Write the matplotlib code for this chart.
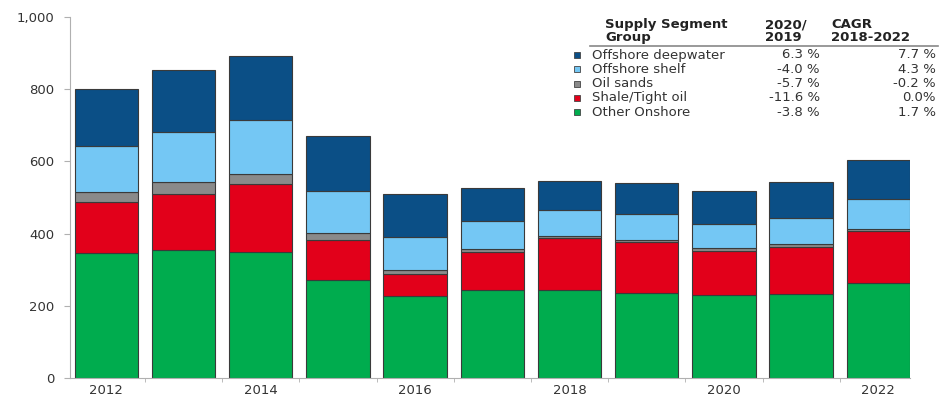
import matplotlib
matplotlib.use("Agg")

import matplotlib.pyplot as plt
import numpy as np

plt.rcParams["font.family"] = ["DejaVu Sans"]

# --- Data ---
years = [2012, 2013, 2014, 2015, 2016, 2017, 2018, 2019, 2020, 2021, 2022]
other_onshore = [347, 355, 348, 272, 227, 243, 245, 236, 231, 234, 263]
shale_tight = [141, 156, 189, 111, 62, 105, 143, 140, 122, 130, 143]
oil_sands = [28, 32, 29, 19, 11, 10, 6, 7, 6, 7, 8]
offshore_shelf = [127, 139, 148, 115, 90, 77, 71, 71, 68, 72, 81]
offshore_deep = [157, 170, 177, 153, 119, 90, 81, 87, 90, 100, 110]

segments = ["Offshore deepwater", "Offshore shelf", "Oil sands",
            "Shale/Tight oil", "Other Onshore"]
chg_2020_2019 = ["6.3 %", "-4.0 %", "-5.7 %", "-11.6 %", "-3.8 %"]
cagr_18_22 = ["7.7 %", "4.3 %", "-0.2 %", "0.0%", "1.7 %"]

colors = {
    "Other Onshore": "#00ac4e",
    "Shale/Tight oil": "#e2001a",
    "Oil sands": "#8a8a8a",
    "Offshore shelf": "#74c7f4",
    "Offshore deepwater": "#0b4f86",
}
txt = "#333333"

# --- Plot ---
fig = plt.figure(figsize=(9.45, 3.96), dpi=100)
ax = fig.add_axes([70 / 945, 1 - 378 / 396, 840 / 945, 361 / 396])

x = np.arange(len(years))
stack = [("Other Onshore", other_onshore), ("Shale/Tight oil", shale_tight),
         ("Oil sands", oil_sands), ("Offshore shelf", offshore_shelf),
         ("Offshore deepwater", offshore_deep)]
bottom = np.zeros(len(years))
for name, vals in stack:
    ax.bar(x, vals, width=0.82, bottom=bottom, color=colors[name],
           edgecolor="#3a3a3a", linewidth=0.8, zorder=2)
    bottom += np.array(vals)

ax.set_xlim(-0.47, 10.41)
ax.set_ylim(0, 1000)
ax.set_yticks([0, 200, 400, 600, 800, 1000])
ax.set_yticklabels(["0", "200", "400", "600", "800", "1,000"])
ax.set_xticks(x[::2])
ax.set_xticklabels([str(y) for y in years[::2]])
ax.set_xticks(np.arange(len(years) - 1) + 0.5, minor=True)
ax.tick_params(axis="x", which="major", length=0, labelsize=9.5, pad=4,
               labelcolor=txt)
ax.tick_params(axis="x", which="minor", length=3, color="#b0b0b0")
ax.tick_params(axis="y", length=4, pad=7, color="#b0b0b0", labelsize=9.5,
               labelcolor=txt)

for s in ["top", "right"]:
    ax.spines[s].set_visible(False)
for s in ["left", "bottom"]:
    ax.spines[s].set_color("#b0b0b0")

# --- Table-style legend ---
vx, cx = 820 / 945, 936 / 945
top = 1 - 18 / 396
fig.text(605 / 945, top, "Supply Segment\nGroup", fontsize=9.5,
         fontweight="bold", va="top", ha="left", linespacing=1.0, color="#222222")
fig.text(765 / 945, top, "2020/\n2019", fontsize=9.5,
         fontweight="bold", va="top", ha="left", linespacing=1.0, color="#222222")
fig.text(831 / 945, top, "CAGR\n2018-2022", fontsize=9.5,
         fontweight="bold", va="top", ha="left", linespacing=1.0, color="#222222")
fig.add_artist(plt.Line2D([590 / 945, 938 / 945], [1 - 46 / 396, 1 - 46 / 396],
                          color="#888888", linewidth=1.2))

for i, seg in enumerate(segments):
    yy = 1 - (55 + i * 14.3) / 396
    fig.add_artist(plt.Rectangle((574 / 945, yy - 3 / 396), 6 / 945, 6 / 396,
                                 facecolor=colors[seg], edgecolor="#444444",
                                 linewidth=0.6))
    fig.text(592 / 945, yy, seg, fontsize=9.5, va="center", ha="left", color=txt)
    fig.text(vx, yy, chg_2020_2019[i], fontsize=9.5, va="center", ha="right", color=txt)
    fig.text(cx, yy, cagr_18_22[i], fontsize=9.5, va="center", ha="right", color=txt)

fig.savefig("out.png", dpi=100)
